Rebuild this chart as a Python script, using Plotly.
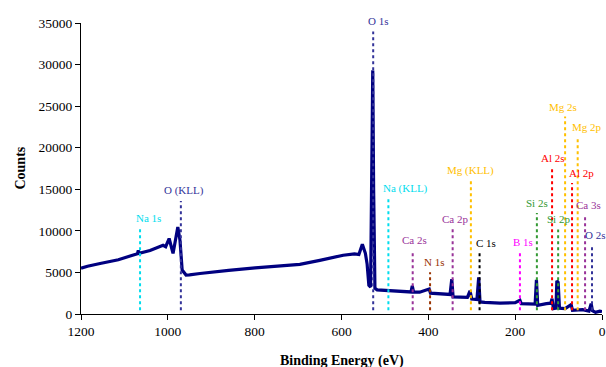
import plotly.graph_objects as go

# ---------------- data ----------------
energy = [1200, 1185, 1156, 1114, 1085, 1070, 1068, 1066, 1041, 1020, 1011, 1005,
          997, 988, 977, 972, 967, 958, 950, 926, 914, 860, 799, 750, 696, 650,
          596, 570, 560, 552, 545, 541, 537, 533, 530, 528, 526, 523, 518, 488,
          460, 440, 437, 434, 420, 398, 395, 380, 350, 346, 343, 310, 304, 300,
          288, 284, 281, 270, 235, 200, 189, 186, 165, 154, 151, 148, 128, 118,
          115, 112, 106, 104, 101, 98, 85, 71, 68, 45, 30, 25, 22, 15, 5, 0]
counts = [5500, 5750, 6080, 6520, 7000, 7250, 7650, 7300, 7640, 8050, 8270, 8100,
          9080, 7280, 10470, 8860, 5280, 4680, 4700, 4870, 4950, 5250, 5540, 5750,
          5970, 6450, 7070, 7240, 7150, 8400, 7300, 6000, 3450, 3250, 20000, 29300,
          15000, 3100, 2900, 2770, 2700, 2650, 3400, 2650, 2620, 3000, 2500, 2450,
          2350, 4200, 2050, 2000, 2800, 1800, 1750, 4400, 1450, 1400, 1320, 1350,
          1650, 1250, 1170, 1200, 4100, 1050, 1250, 1300, 1850, 650, 700, 4000,
          3800, 700, 650, 1130, 450, 530, 350, 1250, 400, 200, 350, 300]

peak_names = ["Na 1s", "O (KLL)", "O 1s", "Na (KLL)", "Mg (KLL)", "Ca 2s", "N 1s",
              "Ca 2p", "C 1s", "B 1s", "Si 2s", "Al 2s", "Si 2p", "Mg 2s", "Al 2p",
              "Mg 2p", "Ca 3s", "O 2s"]
peak_energy = [1064, 970, 527, 492, 302, 436, 396, 344, 282, 189, 150, 115, 101,
               85, 69, 56, 39, 23]
peak_top = [10330, 13580, 33990, 13820, 16000, 7680, 5030, 10210, 7320, 7440,
            12140, 17560, 10170, 23740, 15750, 21330, 11900, 8280]
peak_element = ["Na", "O", "O", "Na", "Mg", "Ca", "N", "Ca", "C", "B", "Si", "Al",
                "Si", "Mg", "Al", "Mg", "Ca", "O"]

y_ticks = [0, 5000, 10000, 15000, 20000, 25000, 30000, 35000]
x_ticks = [1200, 1000, 800, 600, 400, 200, 0]
x_title = "Binding Energy (eV)"
y_title = "Counts"

# ---------------- style ----------------
element_color = {"Na": "#00DDEE", "O": "#333399", "Mg": "#FFC000", "Ca": "#993399",
                 "N": "#993300", "C": "#000000", "B": "#FF00FF", "Si": "#339933",
                 "Al": "#FF0000"}
label_xshift = [8, 3, 5, 17, 0, 2, 4, 2, 6, 3, 0, 1, 0, -2, 9, 9, 3, 3]
line_bottom = 450
serif = "Liberation Serif, Times New Roman, serif"

fig = go.Figure()

fig.add_trace(go.Scatter(x=energy, y=counts, mode="lines",
                         line=dict(color="#000080", width=3.2),
                         showlegend=False, hoverinfo="skip"))

for name, e, top, el, dx in zip(peak_names, peak_energy, peak_top, peak_element, label_xshift):
    col = element_color[el]
    fig.add_trace(go.Scatter(x=[e, e], y=[line_bottom, top], mode="lines",
                             line=dict(color=col, width=2, dash="dot"),
                             showlegend=False, hoverinfo="skip"))
    fig.add_annotation(x=e, y=top, text=name, showarrow=False,
                       xanchor="center", yanchor="bottom", xshift=dx, yshift=2,
                       font=dict(family=serif, size=11, color=col))

# axis titles as annotations for exact placement
fig.add_annotation(xref="paper", yref="paper", x=0.5, y=-0.163,
                   text=f"<b>{x_title}</b>", showarrow=False,
                   xanchor="center", yanchor="middle",
                   font=dict(family=serif, size=14, color="black"))
fig.add_annotation(xref="paper", yref="paper", x=-0.117, y=0.5,
                   text=f"<b>{y_title}</b>", showarrow=False, textangle=-90,
                   xanchor="center", yanchor="middle",
                   font=dict(family=serif, size=14, color="black"))

fig.update_layout(
    width=606, height=367,
    margin=dict(l=81, r=4, t=23, b=53, autoexpand=False),
    paper_bgcolor="white", plot_bgcolor="white",
    font=dict(family=serif, size=13.5, color="black"),
    xaxis=dict(range=[1200, 0], tickvals=x_ticks, ticks="outside", ticklen=5,
               showgrid=False, zeroline=False, showline=True, linecolor="black",
               linewidth=1, tickcolor="black", automargin=False),
    yaxis=dict(range=[0, 35000], tickvals=y_ticks, tickformat="d", ticks="outside",
               ticklen=5, showgrid=False, zeroline=False, showline=True,
               linecolor="black", linewidth=1, tickcolor="black", automargin=False),
)

fig.write_html("out.html", config={"displayModeBar": False},
               post_script="document.body.style.margin='0';"
                           "document.body.style.overflow='hidden';")
